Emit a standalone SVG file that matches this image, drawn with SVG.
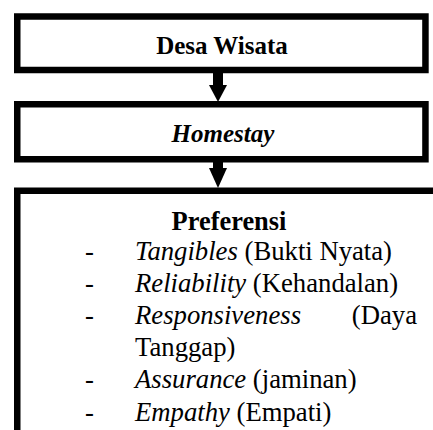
<svg xmlns="http://www.w3.org/2000/svg" width="433" height="430" viewBox="0 0 433 430">
<style>
.box{fill:#fff;stroke:#000;stroke-width:6.5}
text{font-family:'Liberation Serif','Times New Roman',Times,serif;fill:#000}
.h{font-size:25px;font-weight:bold}
.p{font-size:26.4px;font-weight:bold}
.l{font-size:26.7px}
.i{font-style:italic}
</style>
<rect width="433" height="430" fill="#fff"/>
<g id="desa-wisata">
<rect class="box" x="17.25" y="16.5" width="408.2" height="53.5"/>
<text class="h" x="222" y="54" text-anchor="middle">Desa Wisata</text>
</g>
<g id="homestay">
<rect class="box" x="17.25" y="104.25" width="408.2" height="55"/>
<text class="h i" x="223" y="142" text-anchor="middle">Homestay</text>
</g>
<g id="preferensi">
<rect class="box" x="17.25" y="190.75" width="440" height="270"/>
<text class="p" x="229" y="229.5" text-anchor="middle">Preferensi</text>
<text class="l" x="85" y="259.5">-</text>
<text class="l" x="135" y="259.5"><tspan class="i">Tangibles</tspan> (Bukti Nyata)</text>
<text class="l" x="85" y="291.7">-</text>
<text class="l" x="135" y="291.7"><tspan class="i">Reliability</tspan> (Kehandalan)</text>
<text class="l" x="85" y="324">-</text>
<text class="l i" x="135" y="324">Responsiveness</text>
<text class="l" x="417" y="324" text-anchor="end">(Daya</text>
<text class="l" x="135" y="356">Tanggap)</text>
<text class="l" x="85" y="388.3">-</text>
<text class="l" x="135" y="388.3"><tspan class="i">Assurance</tspan> (jaminan)</text>
<text class="l" x="85" y="420.5">-</text>
<text class="l" x="135" y="420.5"><tspan class="i">Empathy</tspan> (Empati)</text>
</g>
<g id="connectors" fill="#000">
<rect x="213" y="72" width="10" height="14"/>
<polygon points="209,85 227,85 218,102"/>
<rect x="213" y="161" width="10" height="8"/>
<polygon points="209,168 227,168 218,188"/>
</g>
</svg>
